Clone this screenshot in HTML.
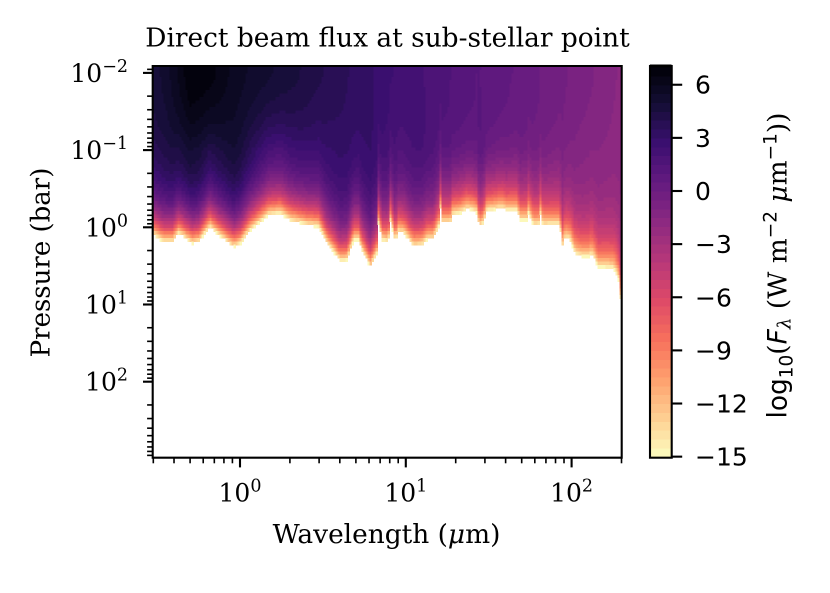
<!DOCTYPE html>
<html lang="en">
<head>
<meta charset="utf-8">
<title>Direct beam flux at sub-stellar point</title>
<style>
html,body{margin:0;padding:0;background:#fff;width:830px;height:593px;overflow:hidden}
svg{display:block}
text{fill:#000}
.serif{font-family:"DejaVu Serif","Liberation Serif",serif}
.sans{font-family:"DejaVu Sans","Liberation Sans",sans-serif}
</style>
</head>
<body>
<svg id="figure" xmlns="http://www.w3.org/2000/svg" width="830" height="593" viewBox="0 0 830 593">
  <rect x="0" y="0" width="830" height="593" fill="#fff"/>
  <g id="heatmap" shape-rendering="crispEdges"></g>
  <g id="colorbar" shape-rendering="crispEdges"></g>
  <g id="axes"></g>
  <text class="serif" x="387.5" y="46.5" font-size="26.4" text-anchor="middle">Direct beam flux at sub-stellar point</text>
  <text class="serif" x="386.5" y="543" font-size="26.4" text-anchor="middle">Wavelength (<tspan font-style="italic">μ</tspan>m)</text>
  <text class="serif" transform="translate(49.3 262.5) rotate(-90)" font-size="26" text-anchor="middle">Pressure (bar)</text>
  <text class="serif" transform="translate(786.7 265.5) rotate(-90)" font-size="26.4" text-anchor="middle"><tspan class="sans">log</tspan><tspan class="sans" font-size="18.5" dy="6">10</tspan><tspan dy="-6">(</tspan><tspan class="sans" font-style="italic">F</tspan><tspan font-style="italic" font-size="18.5" dy="4">λ</tspan><tspan dy="-4"> (W m</tspan><tspan class="sans" font-size="18.5" dy="-10">−2</tspan><tspan dy="10" xml:space="preserve"> </tspan><tspan font-style="italic">μ</tspan><tspan>m</tspan><tspan class="sans" font-size="18.5" dy="-10">−1</tspan><tspan dy="10">))</tspan></text>
</svg>
<script>
// Wavelength (um) at which the bottom edge of the flux field was read
const cutoffWavelengths = [0.30,0.346,0.389,0.426,0.513,0.562,0.655,0.742,0.914,1.0,1.15,1.48,1.75,2.0,2.53,2.97,3.34,4.0,4.4,4.83,5.17,5.42,6.09,6.68,6.83,7.16,7.81,8.03,8.61,9.0,9.66,11.1,12.5,13.4,14.6,15.7,16.1,16.4,18.5,18.9,21.2,23.3,25.0,26.7,27.7,29.3,30.7,33.7,36.4,38.6,40.2,46.6,48.8,53.5,54.7,58.6,62.9,65,66.8,72.2,84.9,86.9,91,97.5,104.5,115,126,132,144.5,158.5,178,190.5,197,200];
// log10 of the pressure (bar) where the flux reaches the bottom of the colour scale
const cutoffLogP = [0.10,0.187,0.187,0.078,0.208,0.187,-0.007,0.10,0.252,0.208,0.035,-0.159,-0.181,-0.094,-0.029,-0.007,0.208,0.434,0.425,0.165,0.165,0.295,0.512,0.334,-0.055,0.165,0.187,-0.094,0.187,0.058,0.074,0.243,0.23,0.152,0.152,-0.007,-0.267,-0.059,-0.059,-0.159,-0.185,-0.237,-0.224,-0.185,-0.004,-0.059,-0.215,-0.224,-0.246,-0.246,-0.215,-0.215,-0.094,-0.094,-0.185,-0.029,-0.029,-0.185,-0.029,-0.029,-0.029,0.269,0.139,0.165,0.334,0.386,0.386,0.347,0.516,0.516,0.529,0.646,0.945,1.2];
// Wavelengths (um) at which the upper-atmosphere colours were read
const fluxWavelengths = [0.30,0.36,0.50,0.66,0.93,1.15,1.48,1.75,2.3,3.5,6.1,9.2,12.2,16.1,24.4,37,49,64,85,112,148,200];
// log10 flux read at the top of the axes
const fluxAtTop = [4.8,5.3,7,6.8,5.8,5.5,5.2,5,4.6,3.9,3.1,2.4,2.1,1.8,1.2,0.8,0.5,0.1,-0.3,-0.7,-1.1,-1.6];
// log10 flux read near 0.1 bar, before the drop-off toward the cutoff
const fluxAtTenthBar = [4.6,5,5.8,5.2,5.6,4.7,3.7,3.6,3.9,3.5,3.3,2.4,2.6,2.1,2,1.4,0.9,0.4,-0.2,-1,-1.3,-1.7];

const xMajorTicks = [0,1,2];
const yMajorTicks = [-2,-1,0,1,2];
const colorbarTicks = [6,3,0,-3,-6,-9,-12,-15];
const magmaStops = ["#000004","#140e36","#3b0f70","#641a80","#8c2981","#b73779","#de4968","#f7705c","#fe9f6d","#fecf92","#fcfdbf"];

const NS = "http://www.w3.org/2000/svg";
const plot = {left:152.7,right:621.7,top:66,bottom:457.7};
const xScale = lam => 240 + 165.8 * Math.log10(lam);
const yScale = logP => 227.3 + 77.2 * logP;
const cbar = {left:650,right:671.7,zero:191,unit:17.71};
const cbarY = v => cbar.zero - cbar.unit * v;
const vMin = -15, vMax = 7.13, level = 0.5;

function hex(c){return [1,3,5].map(i => parseInt(c.substr(i,2),16));}
function colour(v){
  const t = Math.min(1, Math.max(0, (vMax - v) / (vMax - vMin))) * (magmaStops.length - 1);
  const i = Math.min(magmaStops.length - 2, Math.floor(t)), f = t - i;
  const a = hex(magmaStops[i]), b = hex(magmaStops[i + 1]);
  return "rgb(" + a.map((x, k) => Math.round(x + (b[k] - x) * f)).join(",") + ")";
}
function band(v){return Math.floor(v / level) * level + level / 2;}
function interp(xs, ys, lam){
  if (lam <= xs[0]) return ys[0];
  for (let i = 1; i < xs.length; i++) {
    if (lam <= xs[i]) {
      const f = (Math.log(lam) - Math.log(xs[i-1])) / (Math.log(xs[i]) - Math.log(xs[i-1]));
      return ys[i-1] + (ys[i] - ys[i-1]) * f;
    }
  }
  return ys[ys.length - 1];
}
function fluxAt(lam, logP){
  const top = interp(fluxWavelengths, fluxAtTop, lam);
  const mid = interp(fluxWavelengths, fluxAtTenthBar, lam);
  const cut = interp(cutoffWavelengths, cutoffLogP, lam);
  const f = Math.min(1, Math.max(0, logP + 2));
  const clear = top + (mid - top) * Math.pow(f, 1.5);
  const r = Math.pow(10, logP - cut);
  const ratio = 0.85 * Math.pow(r, 1.15) + 0.15 * Math.pow(r, 4);
  return clear - (clear - vMin) * ratio;
}

// Heatmap cells
const heatmap = document.getElementById("heatmap");
const colStep = 2 / 165.8, rowStep = 1 / 23;
const lamStart = Math.log10(0.3), lamEnd = Math.log10(200);
const logPStart = -2.08;
for (let lx = lamStart; lx < lamEnd; lx += colStep) {
  const lam = Math.pow(10, lx + colStep / 2);
  const x0 = Math.max(plot.left, xScale(Math.pow(10, lx)));
  const x1 = Math.min(plot.right, xScale(Math.pow(10, lx + colStep)));
  for (let lp = logPStart; lp < 2.985; lp += rowStep) {
    const v = fluxAt(lam, lp + rowStep / 2);
    if (v < vMin) break;
    const y0 = yScale(lp), y1 = yScale(lp + rowStep);
    const cell = document.createElementNS(NS, "rect");
    cell.setAttribute("x", x0.toFixed(1));
    cell.setAttribute("y", y0.toFixed(1));
    cell.setAttribute("width", (x1 - x0 + 0.6).toFixed(1));
    cell.setAttribute("height", (y1 - y0 + 0.6).toFixed(1));
    cell.setAttribute("fill", colour(band(v)));
    
    
    heatmap.appendChild(cell);
  }
}

// Colorbar bands
const colorbar = document.getElementById("colorbar");
for (let v = vMin; v < vMax; v += level) {
  const top = Math.max(cbarY(vMax), cbarY(v + level));
  const seg = document.createElementNS(NS, "rect");
  seg.setAttribute("x", cbar.left);
  seg.setAttribute("y", top.toFixed(1));
  seg.setAttribute("width", cbar.right - cbar.left);
  seg.setAttribute("height", (cbarY(v) - top + 0.5).toFixed(1));
  seg.setAttribute("fill", colour(v + level / 2));
  
  
  colorbar.appendChild(seg);
}

// Axes
const axes = document.getElementById("axes");
function line(x1, y1, x2, y2, w, name){
  const l = document.createElementNS(NS, "line");
  l.setAttribute("x1", x1); l.setAttribute("y1", y1);
  l.setAttribute("x2", x2); l.setAttribute("y2", y2);
  l.setAttribute("stroke", "#000"); l.setAttribute("stroke-width", w);
  
  
  axes.appendChild(l);
}
function powerLabel(x, y, exp, anchor, name){
  const t = document.createElementNS(NS, "text");
  t.setAttribute("x", x); t.setAttribute("y", y);
  t.setAttribute("class", "serif");
  t.setAttribute("font-size", "25");
  t.setAttribute("text-anchor", anchor);
  
  
  const a = document.createElementNS(NS, "tspan");
  a.textContent = "10";
  const b = document.createElementNS(NS, "tspan");
  b.setAttribute("font-size", "17.5");
  b.setAttribute("dy", "-10");
  b.textContent = String(exp).replace("-", "−");
  t.appendChild(a); t.appendChild(b);
  axes.appendChild(t);
}
const minorFactors = [2,3,4,5,6,7,8,9];
for (let d = -1; d <= 2; d++) {
  minorFactors.forEach(m => {
    const lam = m * Math.pow(10, d);
    const x = xScale(lam);
    if (x >= plot.left - 0.5 && x <= plot.right + 0.5) line(x, plot.bottom, x, plot.bottom + 5.6, 1.6, "x-minor-tick");
  });
}
xMajorTicks.forEach(d => {
  const x = xScale(Math.pow(10, d));
  line(x, plot.bottom, x, plot.bottom + 9.7, 2.1, "x-major-tick");
  powerLabel(x, 501.7, d, "middle", "x-tick-label");
});
for (let d = -3; d <= 2; d++) {
  minorFactors.forEach(m => {
    const y = yScale(d + Math.log10(m));
    if (y >= plot.top - 0.5 && y <= plot.bottom + 0.5) line(plot.left - 5.6, y, plot.left, y, 1.6, "y-minor-tick");
  });
}
yMajorTicks.forEach(d => {
  const y = yScale(d);
  line(plot.left - 9.7, y, plot.left, y, 2.1, "y-major-tick");
  powerLabel(128, y + 9, d, "end", "y-tick-label");
});
line(plot.left, plot.top, plot.right, plot.top, 2.1, "spine-top");
line(plot.left, plot.bottom, plot.right, plot.bottom, 2.1, "spine-bottom");
line(plot.left, plot.top - 1, plot.left, plot.bottom + 1, 2.1, "spine-left");
line(plot.right, plot.top - 1, plot.right, plot.bottom + 1, 2.1, "spine-right");

// Colorbar frame, ticks and labels
const frame = document.createElementNS(NS, "rect");
frame.setAttribute("x", cbar.left);
frame.setAttribute("y", plot.top);
frame.setAttribute("width", cbar.right - cbar.left);
frame.setAttribute("height", plot.bottom - plot.top);
frame.setAttribute("fill", "none");
frame.setAttribute("stroke", "#000");
frame.setAttribute("stroke-width", "2.1");


axes.appendChild(frame);
colorbarTicks.forEach(v => {
  const y = cbarY(v);
  line(cbar.right, y, cbar.right + 10.5, y, 2.1, "colorbar-tick");
  const t = document.createElementNS(NS, "text");
  t.setAttribute("x", 695);
  t.setAttribute("y", y + 9);
  t.setAttribute("class", "sans");
  t.setAttribute("font-size", "25");
  
  
  t.textContent = String(v).replace("-", "−");
  axes.appendChild(t);
});
</script>
</body>
</html>
